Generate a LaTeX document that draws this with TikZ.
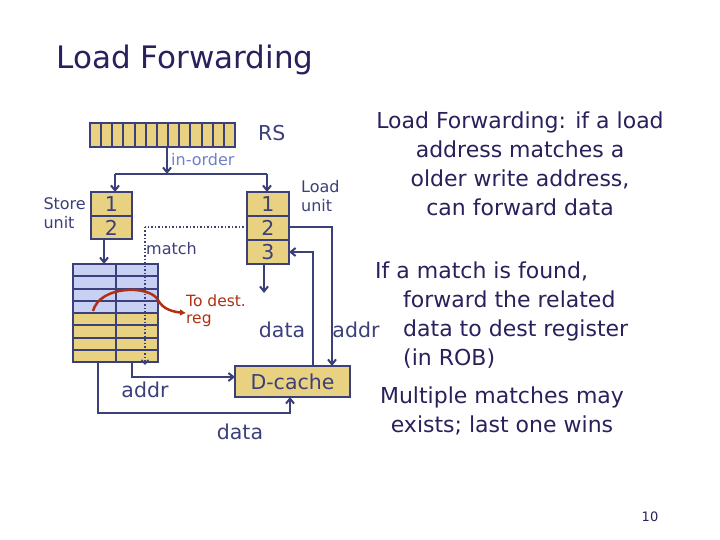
\documentclass[tikz,border=0pt]{standalone}
\usepackage{fontspec}
\setmainfont{DejaVu Sans}
\usetikzlibrary{arrows.meta}
\definecolor{navy}{HTML}{3B3F7A}
\definecolor{titlec}{HTML}{2B1F5C}
\definecolor{cellY}{HTML}{E8D282}
\definecolor{cellB}{HTML}{C8D0F4}
\definecolor{inord}{HTML}{7080C8}
\definecolor{destc}{HTML}{B03010}
\tikzset{
  wire/.style={navy, line width=2pt},
  arr/.style={wire, -{Straight Barb[length=5pt,width=8pt]}},
  cell/.style={draw=navy, line width=2pt, fill=cellY},
  lbl/.style={navy, font=\fontsize{16}{19}\selectfont, inner sep=0pt},
  big/.style={navy, font=\fontsize{20.5}{22}\selectfont, inner sep=0pt},
  txt/.style={titlec, font=\fontsize{22}{29}\selectfont, align=center, inner sep=0pt},
}
\begin{document}
\begin{tikzpicture}[x=1pt,y=-1pt]
	\useasboundingbox (0,0) rectangle (720,540);
	
	\node[titlec, font=\fontsize{31}{34}\selectfont, anchor=west] (title) at (53,60) {Load Forwarding};
	
	% RS queue
	\foreach \i in {0,...,12}
		\draw[cell] ({90+\i*11.15},123) rectangle ({90+(\i+1)*11.15},147);
	\node[big, anchor=west] (rs) at (258,133) {RS};
	\coordinate (rsb) at (167,147);
	\coordinate (split) at (167,174);
	\draw[arr] (rsb) -- (split);
	\node[inord, font=\fontsize{16}{18}\selectfont, anchor=west, inner sep=0pt] (inorder) at (171,160) {in-order};
	
	% store unit
	\draw[cell] (91,192) rectangle (132,216) node[midway, big] (s1) {1};
	\draw[cell] (91,216) rectangle (132,239) node[midway, big] (s2) {2};
	\node[lbl, align=left, anchor=east] (store) at (86,213) {Store\\unit};
	
	% load unit
	\draw[cell] (247,192) rectangle (289,216) node[midway, big] (l1) {1};
	\draw[cell] (247,216) rectangle (289,240) node[midway, big] (l2) {2};
	\draw[cell] (247,240) rectangle (289,264) node[midway, big] (l3) {3};
	\node[lbl, align=left, anchor=west] (load) at (301,196) {Load\\unit};
	
	\coordinate (sp1) at (115,174);
	\coordinate (sp2) at (267,174);
	\draw[wire] (sp1) -- (sp2);
	\draw[arr] (sp1) -- (115,192);
	\draw[arr] (sp2) -- (267,192);
	
	% store buffer
	\foreach \r in {0,...,7}{
		\ifnum\r<4 \def\fc{cellB}\else\def\fc{cellY}\fi
		\draw[draw=navy, line width=2pt, fill=\fc] (73,{264+\r*12.25}) rectangle (116,{264+(\r+1)*12.25});
		\draw[draw=navy, line width=2pt, fill=\fc] (116,{264+\r*12.25}) rectangle (158,{264+(\r+1)*12.25});
	}
	\draw[arr] (104,239) -- (104,264);
	
	% match
	\draw[navy, line width=1.5pt, dotted] (247,227) -- (145,227);
	\draw[navy, line width=1.5pt, dotted, -{Straight Barb[length=4pt,width=7pt]}] (145,227) -- (145,365);
	\node[lbl, anchor=west] (match) at (146,249) {match};
	
	% to dest reg
	\draw[destc, line width=2.5pt, -{Latex[length=6pt,width=7pt]}] (93,311) .. controls (100,285) and (150,285) .. (158,300) .. controls (163,310) and (175,312) .. (186,313);
	\node[destc, font=\fontsize{15.5}{17}\selectfont, align=left, anchor=west, inner sep=0pt] (dest) at (186,311) {To dest.\\reg};
	
	% D-cache
	\draw[cell] (235,366) rectangle (350,397) node[midway, big] (dc) {D-cache};
	\draw[arr] (264,264) -- (264,293);
	\draw[arr] (289,227) -| (332,366);
	\draw[arr] (313,366) |- (289,252);
	\draw[arr] (132,362) |- (235,377);
	\draw[arr] (98,362) |- (290,413) -- (290,397);
	\node[big, anchor=center] (d1) at (282,330) {data};
	\node[big, anchor=center] (a1) at (356,330) {addr};
	\node[big, anchor=center] (a2) at (145,390) {addr};
	\node[big, anchor=center] (d2) at (240,432) {data};
	
	% right text
	\node[txt] (t1) at (520,164) {Load Forwarding: if a load\\address matches a\\older write address,\\can forward data};
	\node[txt, align=left, anchor=north west] (t2) at (375,262) {If a match is found,\\\hspace{28pt}forward the related\\\hspace{28pt}data to dest register\\\hspace{28pt}(in ROB)};
	\node[txt] (t3) at (502,411) {Multiple matches may\\exists; last one wins};
	
	\node[titlec, font=\fontsize{13}{15}\selectfont] (pg) at (650,517) {10};
\end{tikzpicture}
\end{document}
